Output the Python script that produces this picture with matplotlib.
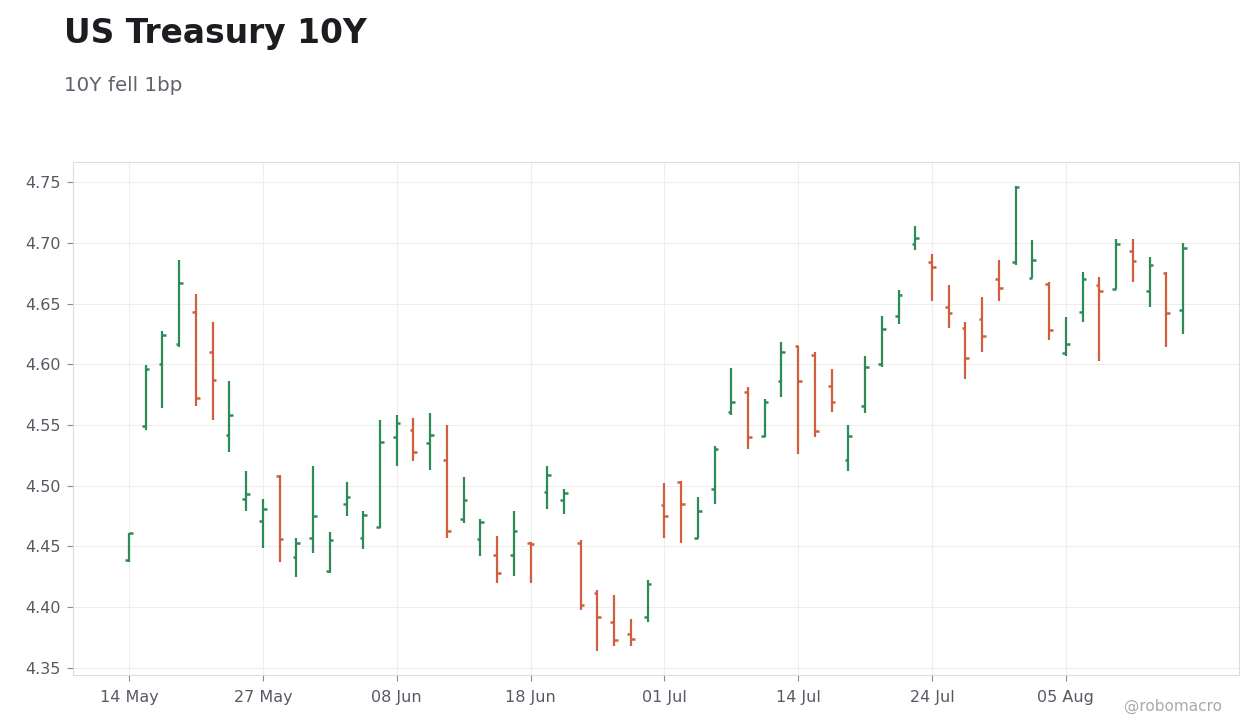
import numpy as np
from matplotlib import pyplot as plt

# 10Y daily OHLC
opens = [4.439, 4.549, 4.600, 4.617, 4.643, 4.610, 4.542, 4.489, 4.471, 4.508,
         4.441, 4.457, 4.430, 4.485, 4.457, 4.466, 4.540, 4.546, 4.535, 4.521,
         4.473, 4.456, 4.443, 4.443, 4.453, 4.495, 4.488, 4.453, 4.412, 4.388,
         4.378, 4.392, 4.484, 4.503, 4.457, 4.497, 4.561, 4.577, 4.541, 4.586,
         4.615, 4.608, 4.582, 4.521, 4.566, 4.600, 4.640, 4.699, 4.684, 4.647,
         4.630, 4.637, 4.670, 4.684, 4.671, 4.666, 4.609, 4.643, 4.665, 4.662,
         4.693, 4.660, 4.675, 4.645]
highs = [4.461, 4.599, 4.627, 4.686, 4.658, 4.635, 4.586, 4.512, 4.489, 4.509,
         4.457, 4.516, 4.462, 4.503, 4.479, 4.554, 4.558, 4.556, 4.560, 4.550,
         4.507, 4.473, 4.459, 4.479, 4.454, 4.516, 4.497, 4.455, 4.414, 4.410,
         4.390, 4.422, 4.502, 4.504, 4.491, 4.533, 4.597, 4.581, 4.571, 4.618,
         4.615, 4.610, 4.596, 4.550, 4.607, 4.640, 4.661, 4.714, 4.691, 4.665,
         4.635, 4.655, 4.686, 4.747, 4.702, 4.668, 4.639, 4.676, 4.672, 4.703,
         4.703, 4.688, 4.676, 4.700]
lows = [4.437, 4.546, 4.564, 4.614, 4.566, 4.554, 4.528, 4.479, 4.449, 4.437,
        4.425, 4.445, 4.428, 4.475, 4.448, 4.465, 4.516, 4.520, 4.513, 4.457,
        4.469, 4.442, 4.420, 4.426, 4.420, 4.481, 4.477, 4.398, 4.364, 4.368,
        4.368, 4.388, 4.457, 4.453, 4.457, 4.485, 4.558, 4.530, 4.540, 4.573,
        4.526, 4.540, 4.561, 4.512, 4.560, 4.598, 4.633, 4.694, 4.652, 4.630,
        4.588, 4.610, 4.652, 4.682, 4.671, 4.620, 4.607, 4.635, 4.603, 4.662,
        4.668, 4.647, 4.614, 4.625]
closes = [4.461, 4.596, 4.624, 4.667, 4.572, 4.587, 4.558, 4.493, 4.481, 4.456,
          4.453, 4.475, 4.455, 4.491, 4.476, 4.536, 4.552, 4.528, 4.542, 4.463,
          4.488, 4.470, 4.428, 4.463, 4.452, 4.509, 4.494, 4.402, 4.392, 4.373,
          4.374, 4.419, 4.475, 4.485, 4.479, 4.530, 4.569, 4.540, 4.569, 4.610,
          4.586, 4.545, 4.569, 4.541, 4.598, 4.629, 4.657, 4.704, 4.680, 4.642,
          4.605, 4.623, 4.663, 4.746, 4.686, 4.628, 4.617, 4.670, 4.660, 4.699,
          4.685, 4.682, 4.642, 4.696]

tick_labels = ["14 May", "27 May", "08 Jun", "18 Jun", "01 Jul", "14 Jul", "24 Jul", "05 Aug"]

GREEN = "#2e8b57"
RED = "#d0603c"

plt.rcParams['font.family'] = ['DejaVu Sans']
fig = plt.figure(figsize=(12.6, 7.28), dpi=100)
ax = fig.add_axes([73 / 1260, 1 - 675 / 728, (1239 - 73) / 1260, (675 - 162) / 728])

x = np.arange(len(closes))
o = np.array(opens)
c = np.array(closes)
colors = np.where(c >= o, GREEN, RED)
w = 0.22

ax.vlines(x, lows, highs, colors=colors, linewidth=1.6, zorder=3)
ax.hlines(o, x - w, x, colors=colors, linewidth=1.8, zorder=3)
ax.hlines(c, x, x + w, colors=colors, linewidth=1.8, zorder=3)

ax.set_xlim(-3.35, 66.35)
ax.set_ylim(4.3442, 4.7665)
ax.set_xticks(np.arange(len(tick_labels)) * 8)
ax.set_xticklabels(tick_labels)
ax.set_yticks([4.35, 4.40, 4.45, 4.50, 4.55, 4.60, 4.65, 4.70, 4.75])
ax.yaxis.set_major_formatter(plt.FormatStrFormatter('%.2f'))
ax.grid(True, color="#eeeeee", linewidth=0.8, zorder=0)
for s in ax.spines.values():
    s.set_color("#dddddd")
ax.tick_params(axis='both', colors="#888888", labelcolor="#555a63", labelsize=11.5, length=4, width=0.8)
ax.tick_params(axis='x', pad=7)
ax.tick_params(axis='y', pad=5)

fig.text(64 / 1260, 1 - 43 / 728, "US Treasury 10Y", fontsize=23.7, fontweight='bold', color="#1c1c21")
fig.text(64 / 1260, 1 - 91 / 728, "10Y fell 1bp", fontsize=14.3, color="#60636b")
fig.text(1222 / 1260, 1 - 711 / 728, "@robomacro", fontsize=11, color="#aaaaaa", ha='right')

fig.savefig("out.png", dpi=100)
